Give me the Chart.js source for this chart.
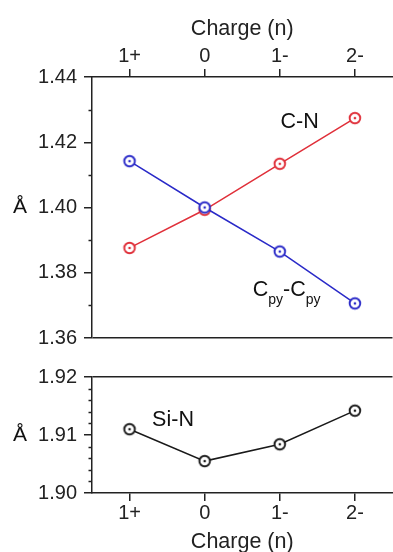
<!DOCTYPE html>
<html>
<head>
<meta charset="utf-8">
<script src="https://cdn.jsdelivr.net/npm/chart.js@4"></script>
<style>
  html, body { margin: 0; padding: 0; background: #fff; overflow: hidden; width: 393px; height: 552px; }
  canvas { position: absolute; left: 0; }
  #top { top: 0; }
  #bottom { top: 345px; }
</style>
</head>
<body>
<canvas id="top" width="400" height="357"></canvas>
<canvas id="bottom" width="400" height="212"></canvas>
<script>
// charge states and bond lengths (Å)
const charges = ["1+", "0", "1-", "2-"];
const cnValues = [1.3876, 1.3993, 1.4134, 1.4274];
const cpyValues = [1.4142, 1.4000, 1.3865, 1.3706];
const siNValues = [1.9110, 1.9055, 1.9084, 1.9142];
const topMinorTicks = [1.37, 1.39, 1.41, 1.43];
const bottomMinorTicks = [1.902, 1.904, 1.906, 1.908, 1.912, 1.914, 1.916, 1.918];

const RED = "#e0303a", BLUE = "#2a2ac8", BLACK = "#1a1a1a";
const AXIS = "#222";
const FONT = "'Liberation Sans', Arial, sans-serif";

// circle with a dot in the middle
function marker(color) {
  const c = document.createElement("canvas");
  c.width = 16; c.height = 16;
  const g = c.getContext("2d");
  g.beginPath(); g.arc(8, 8, 5.3, 0, Math.PI * 2);
  g.fillStyle = "#fff"; g.fill();
  g.lineWidth = 1.9; g.strokeStyle = color; g.stroke();
  g.beginPath(); g.arc(8, 8, 1.3, 0, Math.PI * 2);
  g.fillStyle = color; g.fill();
  return c;
}

// minor ticks, the Å axis label and the text labels in the plot
const extras = {
  id: "extras",
  afterDraw(chart, args, opts) {
    const ctx = chart.ctx, x = chart.scales.x, y = chart.scales.y;
    ctx.save();
    ctx.strokeStyle = AXIS; ctx.lineWidth = 1.5;
    opts.minor.forEach(v => {
      const py = Math.round(y.getPixelForValue(v)) + 0.5;
      ctx.beginPath(); ctx.moveTo(y.right - 3.5, py); ctx.lineTo(y.right, py); ctx.stroke();
    });
    ctx.fillStyle = "#111";
    ctx.font = "21px " + FONT;
    ctx.textAlign = "center"; ctx.textBaseline = "middle";
    ctx.fillText("Å", 20, (chart.chartArea.top + chart.chartArea.bottom) / 2);
    ctx.textAlign = "left";
    opts.labels.forEach(l => {
      let px = x.getPixelForValue(l.x);
      const py = y.getPixelForValue(l.y);
      l.parts.forEach(([t, size, dy]) => {
        ctx.font = size + "px " + FONT;
        ctx.fillText(t, px, py + dy);
        px += ctx.measureText(t).width;
      });
    });
    ctx.restore();
  }
};

function xAxis(position, height, titlePadding, tickPadding) {
  return {
    position: position,
    offset: true,
    grid: { offset: false, drawOnChartArea: false, tickLength: 8, color: AXIS, lineWidth: 1.5 },
    border: { color: AXIS, width: 1.5 },
    ticks: { padding: tickPadding, color: "#222", font: { family: FONT, size: 20 } },
    title: { display: true, text: "Charge (n)", color: "#222", padding: titlePadding, font: { family: FONT, size: 21.5 } },
    afterFit: s => { s.height = height; }
  };
}

function yAxis(min, max, step, spineValue) {
  return {
    min: min, max: max,
    ticks: { stepSize: step, padding: 7, color: "#222", font: { family: FONT, size: 20 }, callback: v => Number(v).toFixed(2) },
    grid: {
      color: c => Math.abs(c.tick.value - spineValue) < 1e-9 ? AXIS : "transparent",
      tickColor: AXIS, lineWidth: 1.5, tickLength: 8
    },
    border: { color: AXIS, width: 1.5 },
    afterFit: s => { s.width = 92; }
  };
}

new Chart(document.getElementById("top"), {
  type: "line",
  data: {
    labels: charges,
    datasets: [
      { label: "C-N", data: cnValues, order: 1, borderColor: RED, borderWidth: 1.5, pointStyle: marker(RED), pointRadius: 6 },
      { label: "Cpy-Cpy", data: cpyValues, order: 0, borderColor: BLUE, borderWidth: 1.5, pointStyle: marker(BLUE), pointRadius: 6 }
    ]
  },
  options: {
    responsive: false,
    animation: false,
    events: [],
    layout: { padding: { right: 4 } },
    plugins: {
      legend: { display: false },
      tooltip: { enabled: false },
      extras: {
        minor: topMinorTicks,
        labels: [
          { x: 2.01, y: 1.4262, parts: [["C-N", 21.5, 0]] },
          { x: 1.64, y: 1.3748, parts: [["C", 21.5, 0], ["py", 14, 10], ["-C", 21.5, 0], ["py", 14, 10]] }
        ]
      }
    },
    scales: {
      x: xAxis("top", 77, { top: 16, bottom: 0 }, 1),
      y: yAxis(1.36, 1.44, 0.02, 1.36)
    }
  },
  plugins: [extras]
});

new Chart(document.getElementById("bottom"), {
  type: "line",
  data: {
    labels: charges,
    datasets: [
      { label: "Si-N", data: siNValues, borderColor: BLACK, borderWidth: 1.5, pointStyle: marker(BLACK), pointRadius: 6 }
    ]
  },
  options: {
    responsive: false,
    animation: false,
    events: [],
    layout: { padding: { top: 32, right: 4 } },
    plugins: {
      legend: { display: false },
      tooltip: { enabled: false },
      extras: {
        minor: bottomMinorTicks,
        labels: [
          { x: 0.30, y: 1.9126, parts: [["Si-N", 21.5, 0]] }
        ]
      }
    },
    scales: {
      x: xAxis("bottom", 64, { top: 0, bottom: 2 }, 0),
      y: yAxis(1.90, 1.92, 0.01, 1.92)
    }
  },
  plugins: [extras]
});
</script>
</body>
</html>
